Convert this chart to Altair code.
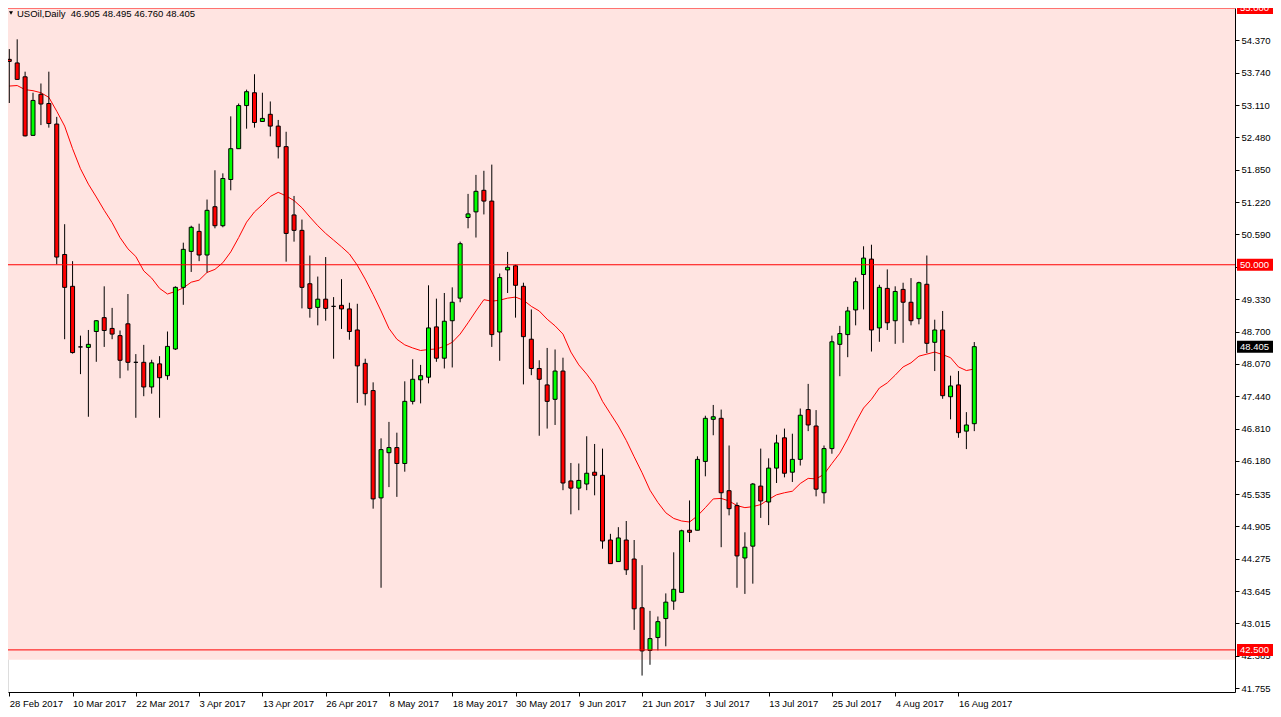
import altair as alt
import pandas as pd

# ---------------- data ----------------
open_ = [54.00, 53.93, 53.66, 52.52, 53.32, 53.14, 52.74, 50.20, 49.58, 48.40,
         48.39, 48.70, 48.97, 48.76, 48.62, 48.85, 48.10, 48.10, 47.62, 48.07,
         47.84, 48.36, 49.56, 50.26, 50.65, 50.19, 51.13, 50.76, 51.66, 52.26,
         53.10, 53.35, 52.79, 52.93, 52.70, 52.30, 50.97, 50.67, 49.63, 49.17,
         49.33, 49.19, 49.21, 49.14, 48.73, 48.08, 47.55, 45.46, 46.34, 46.44,
         46.13, 47.34, 47.76, 47.81, 48.79, 48.18, 48.91, 49.35, 50.92, 51.03,
         51.45, 51.24, 48.69, 49.90, 49.98, 49.58, 48.55, 47.98, 47.66, 47.38,
         47.93, 45.79, 45.65, 45.73, 45.96, 45.90, 44.64, 44.22, 44.64, 44.27,
         43.32, 42.49, 42.74, 43.11, 43.45, 43.62, 44.83, 44.83, 46.17, 46.99,
         47.01, 45.60, 45.31, 44.29, 44.52, 45.69, 45.38, 46.04, 46.63, 45.96,
         46.21, 47.18, 46.86, 45.56, 46.42, 48.45, 48.64, 49.12, 49.81, 50.11,
         48.77, 49.54, 48.91, 49.52, 49.27, 48.95, 49.62, 48.49, 48.73, 47.43,
         47.66, 46.76, 46.905]
high = [54.20, 54.39, 53.76, 53.35, 53.53, 53.76, 52.88, 50.79, 50.07, 48.62,
        48.73, 48.92, 49.58, 49.16, 48.72, 49.43, 48.26, 48.44, 48.15, 48.22,
        48.70, 49.58, 50.43, 50.76, 50.80, 51.27, 51.84, 51.78, 52.89, 53.14,
        53.41, 53.71, 53.35, 53.18, 52.82, 52.59, 51.34, 50.88, 50.18, 49.77,
        50.15, 49.37, 49.72, 49.26, 49.24, 48.17, 47.71, 46.62, 46.94, 46.73,
        47.73, 48.16, 48.05, 49.60, 49.34, 49.45, 49.56, 50.45, 51.38, 51.75,
        51.83, 51.95, 49.83, 50.25, 50.00, 49.65, 49.13, 48.14, 48.38, 48.35,
        48.19, 46.14, 46.13, 46.66, 46.51, 46.42, 44.76, 44.89, 45.01, 44.64,
        44.15, 43.26, 43.15, 43.60, 44.40, 44.84, 45.41, 46.27, 47.06, 47.27,
        47.18, 46.48, 45.37, 44.79, 45.75, 46.42, 46.23, 46.69, 46.81, 46.71,
        47.20, 47.68, 47.17, 46.48, 48.62, 48.81, 49.18, 49.75, 50.36, 50.39,
        49.61, 49.91, 49.58, 49.65, 49.74, 49.67, 50.18, 48.93, 49.10, 47.84,
        47.93, 47.13, 48.495]
low = [53.15, 53.60, 52.50, 52.51, 52.72, 52.67, 50.01, 48.55, 48.27, 47.87,
       47.04, 48.11, 48.40, 48.55, 47.79, 47.94, 47.02, 47.44, 47.49, 47.02,
       47.76, 48.34, 49.22, 49.86, 50.07, 49.85, 50.71, 50.73, 51.45, 52.26,
       52.65, 52.67, 52.79, 52.50, 52.07, 50.06, 50.45, 49.15, 48.97, 48.82,
       48.91, 48.17, 48.75, 48.54, 47.31, 47.26, 45.25, 43.71, 45.67, 45.48,
       45.97, 47.28, 47.30, 47.69, 48.11, 47.98, 48.00, 49.27, 50.71, 50.53,
       50.98, 48.40, 48.13, 49.45, 48.97, 47.67, 47.85, 46.67, 46.81, 46.88,
       45.61, 45.14, 45.22, 45.61, 45.51, 44.47, 44.18, 44.22, 43.96, 42.89,
       42.00, 42.21, 42.49, 42.57, 43.28, 43.62, 44.60, 44.83, 45.88, 46.68,
       44.50, 45.12, 43.71, 43.59, 43.79, 45.07, 44.93, 45.75, 45.86, 45.77,
       46.09, 46.76, 45.49, 45.35, 46.32, 47.83, 48.20, 48.82, 49.13, 48.31,
       48.50, 48.73, 48.46, 48.48, 48.82, 48.84, 48.28, 47.93, 47.39, 46.99,
       46.63, 46.41, 46.76]
close = [53.96, 53.61, 52.51, 53.20, 53.13, 52.75, 50.15, 49.56, 48.29, 48.40,
         48.45, 48.91, 48.72, 48.65, 48.14, 48.10, 48.10, 47.62, 48.09, 47.80,
         48.41, 49.56, 50.30, 50.73, 50.19, 51.06, 50.76, 51.68, 52.26, 53.10,
         53.37, 52.77, 52.85, 52.70, 52.30, 50.61, 50.67, 49.56, 49.15, 49.33,
         49.15, 49.19, 49.14, 48.70, 48.03, 47.49, 45.44, 46.40, 46.44, 46.13,
         47.34, 47.77, 47.84, 48.77, 48.18, 48.90, 49.27, 50.41, 50.99, 51.43,
         51.24, 48.64, 49.75, 49.95, 49.60, 48.60, 47.98, 47.77, 47.34, 47.93,
         45.75, 45.65, 45.80, 45.94, 45.90, 44.62, 44.18, 44.68, 44.06, 43.30,
         42.48, 42.72, 43.05, 43.43, 43.68, 44.82, 44.79, 46.21, 47.01, 47.04,
         45.56, 45.25, 44.33, 44.50, 45.73, 45.40, 46.04, 46.53, 45.94, 46.21,
         47.07, 46.88, 45.63, 46.42, 48.50, 48.66, 49.10, 49.67, 50.13, 48.73,
         49.56, 48.87, 49.48, 49.27, 48.91, 49.65, 48.47, 48.73, 47.45, 47.64,
         46.73, 46.88, 48.405]
moving_avg = [53.48, 53.49, 53.41, 53.39, 53.35, 53.26, 52.99, 52.70, 52.26, 51.87,
              51.57, 51.32, 51.06, 50.82, 50.53, 50.31, 50.16, 49.88, 49.74, 49.54,
              49.43, 49.48, 49.55, 49.66, 49.70, 49.85, 49.91, 50.04, 50.25, 50.53,
              50.83, 51.03, 51.17, 51.33, 51.41, 51.34, 51.25, 51.11, 50.93, 50.76,
              50.61, 50.48, 50.35, 50.21, 49.99, 49.72, 49.42, 49.10, 48.76, 48.55,
              48.44, 48.38, 48.33, 48.35, 48.36, 48.41, 48.49, 48.65, 48.87, 49.10,
              49.32, 49.29, 49.31, 49.35, 49.37, 49.31, 49.19, 49.10, 48.94, 48.81,
              48.65, 48.30, 48.05, 47.87, 47.66, 47.34, 47.10, 46.86, 46.58, 46.26,
              45.95, 45.61, 45.37, 45.17, 45.06, 45.01, 44.99, 45.11, 45.27, 45.44,
              45.45, 45.40, 45.31, 45.27, 45.29, 45.33, 45.43, 45.52, 45.56, 45.59,
              45.74, 45.84, 45.83, 45.92, 46.13, 46.33, 46.61, 46.93, 47.21, 47.38,
              47.60, 47.70, 47.85, 48.01, 48.09, 48.22, 48.26, 48.30, 48.25, 48.19,
              48.01, 47.94, 47.97]

tick_bars = [0, 8, 16, 24, 32, 40, 48, 56, 64, 72, 80, 88, 96, 104, 112, 120]
tick_dates = ["28 Feb 2017", "10 Mar 2017", "22 Mar 2017", "3 Apr 2017",
              "13 Apr 2017", "26 Apr 2017", "8 May 2017", "18 May 2017",
              "30 May 2017", "9 Jun 2017", "21 Jun 2017", "3 Jul 2017",
              "13 Jul 2017", "25 Jul 2017", "4 Aug 2017", "16 Aug 2017"]
price_ticks = [54.370, 53.740, 53.110, 52.480, 51.850, 51.220, 50.590, 49.960,
               49.330, 48.700, 48.070, 47.440, 46.810, 46.180, 45.535, 44.905,
               44.275, 43.645, 43.015, 42.385, 41.755]
level_prices = [55.0, 50.0, 42.5]
level_labels = ["55.000", "50.000", "42.500"]
zone_top, zone_bottom = 55.0, 42.31
last_price, last_label = 48.405, "48.405"
title_text = "USOil,Daily\u00a0\u00a046.905 48.495 46.760 48.405"

# ---------------- layout / style ----------------
PLOT_W, PLOT_H = 1227, 684
PAD_R, PAD_B = 38, 17
X_MIN, X_MAX = -0.1625, 154.96
Y_MIN, Y_MAX = 41.68, 55.0
FONT = "Liberation Sans"
FS = 9.5
PINK = "#ffe4e1"
RED = "#ff0000"
GREEN = "#00ff00"
BOX_HALF = 6 * (Y_MAX - Y_MIN) / PLOT_H

n = len(close)
candles = pd.DataFrame({"i": list(range(n)), "o": open_, "h": high, "l": low,
                        "c": close, "ma": moving_avg})
candles["dir"] = ["up" if c > o else ("down" if c < o else "doji")
                  for o, c in zip(open_, close)]

xs = alt.Scale(domain=[X_MIN, X_MAX], nice=False, zero=False, padding=0)
ys = alt.Scale(domain=[Y_MIN, Y_MAX], nice=False, zero=False, padding=0)

date_expr = "[" + ",".join(f"'{d}'" for d in tick_dates) + "][round(datum.value / 8)]"
x_axis = alt.Axis(values=tick_bars, labelExpr=date_expr, orient="bottom", title=None,
                  grid=False, tickSize=4, tickColor="black", domainColor="black",
                  labelAlign="left", labelBaseline="top", labelPadding=2,
                  labelFont=FONT, labelFontSize=FS, labelColor="black",
                  labelOverlap=False, labelFlush=False)
y_axis = alt.Axis(values=price_ticks, format=".3f", orient="right", title=None,
                  grid=False, tickSize=4, tickColor="black", domainColor="black",
                  labelAlign="left", labelBaseline="middle", labelPadding=2,
                  labelFont=FONT, labelFontSize=FS, labelColor="black",
                  labelOverlap=False, labelFlush=False)


def X(f):
    return alt.X(f, type="quantitative", scale=xs, axis=x_axis)


def Y(f):
    return alt.Y(f, type="quantitative", scale=ys, axis=y_axis)


zone = alt.Chart(pd.DataFrame({"top": [zone_top], "bottom": [zone_bottom]})).mark_rect(
    color=PINK, clip=True).encode(
    x=alt.value(0), x2=alt.value("width"), y=Y("top"), y2="bottom:Q")

ma_line = alt.Chart(candles).mark_line(color=RED, strokeWidth=1, clip=True).encode(
    x=X("i"), y=Y("ma"))

wicks = alt.Chart(candles).mark_rule(color="black", strokeWidth=1, clip=True).encode(
    x=X("i"), y=Y("l"), y2="h:Q")

bodies = alt.Chart(candles).mark_bar(width=4, stroke="black", strokeWidth=1, clip=True).encode(
    x=X("i"), y=Y("o"), y2="c:Q",
    color=alt.Color("dir:N", scale=alt.Scale(domain=["up", "down", "doji"],
                                             range=[GREEN, RED, "black"]), legend=None))

levels_df = pd.DataFrame({"level": level_prices, "label": level_labels})
levels_df["top"] = levels_df["level"] + BOX_HALF
levels_df["bottom"] = levels_df["level"] - BOX_HALF

level_rules = alt.Chart(levels_df).mark_rule(color=RED, strokeWidth=1).encode(
    x=alt.value(0), x2=alt.value("width"), y=Y("level"))

level_boxes = alt.Chart(levels_df).mark_rect(color=RED).encode(
    x=alt.value(PLOT_W + 2), x2=alt.value(PLOT_W + PAD_R), y=Y("top"), y2="bottom:Q")

level_text = alt.Chart(levels_df).mark_text(
    color="white", align="left", baseline="middle", font=FONT, fontSize=FS).encode(
    x=alt.value(PLOT_W + 5), y=Y("level"), text="label:N")

last_df = pd.DataFrame({"p": [last_price], "label": [last_label],
                        "top": [last_price + BOX_HALF], "bottom": [last_price - BOX_HALF]})
last_box = alt.Chart(last_df).mark_rect(color="black").encode(
    x=alt.value(PLOT_W + 2), x2=alt.value(PLOT_W + PAD_R), y=Y("top"), y2="bottom:Q")
last_text = alt.Chart(last_df).mark_text(
    color="white", align="left", baseline="middle", font=FONT, fontSize=FS).encode(
    x=alt.value(PLOT_W + 5), y=Y("p"), text="label:N")

title_df = pd.DataFrame({"t": [title_text]})
title_tri = alt.Chart(title_df).mark_point(
    shape="triangle-down", filled=True, color="black", size=16, opacity=1).encode(
    x=alt.value(3), y=alt.value(5))
title_txt = alt.Chart(title_df).mark_text(
    align="left", baseline="middle", font=FONT, fontSize=FS, color="black").encode(
    x=alt.value(9), y=alt.value(6), text="t:N")

chart = alt.layer(zone, ma_line, wicks, bodies, level_rules, level_boxes, level_text,
                  last_box, last_text, title_tri, title_txt).properties(
    width=PLOT_W, height=PLOT_H,
    autosize=alt.AutoSizeParams(type="none"),
    padding={"left": 0, "top": 0, "right": PAD_R, "bottom": PAD_B},
).configure_view(stroke=None, fill="white").configure(background="white")

chart.save("out.html", embed_options={"renderer": "svg", "actions": False})
